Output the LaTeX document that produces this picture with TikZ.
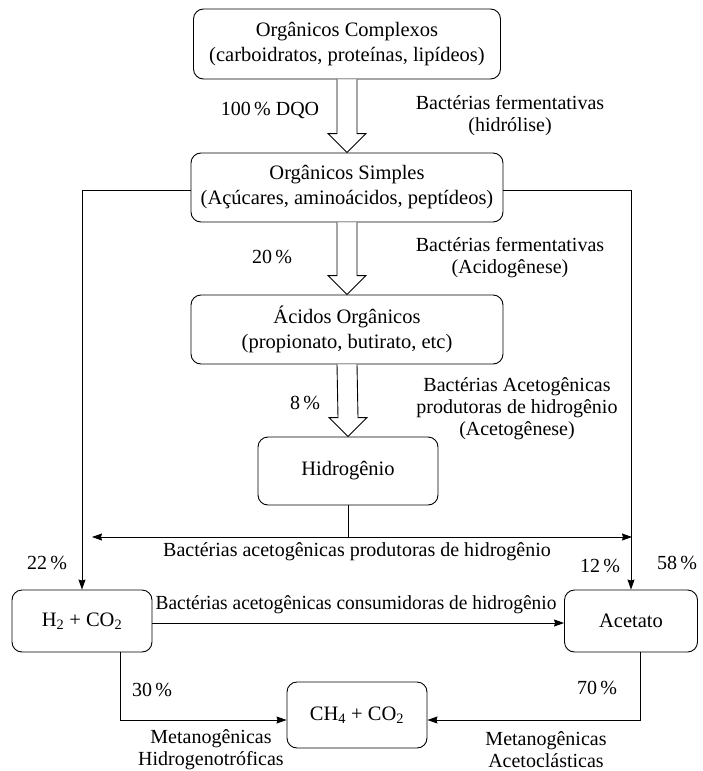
\documentclass[tikz,border=0pt]{standalone}
\usepackage{fontspec}
\setmainfont{Liberation Serif}
\usetikzlibrary{arrows.meta,calc}

\tikzset{
  box/.style={draw, line width=0.9pt, rounded corners=10pt, align=center,
    inner sep=0pt, font=\fontsize{20.5}{25}\selectfont},
  lbl/.style={align=center, inner sep=0pt, font=\fontsize{20}{22}\selectfont},
  conn/.style={line width=0.8pt},
  arr/.style={conn, -{Stealth[length=10pt,width=7pt,inset=1pt]}},
  dbl/.style={conn, {Stealth[length=10pt,width=7pt,inset=1pt]}-{Stealth[length=10pt,width=7pt,inset=1pt]}},
  hollow/.style={draw, line width=0.9pt, fill=white, line join=miter},
}

% wide hollow arrow from the bottom of #1 to the top of #2
\newcommand\hollowarrow[2]{%
  \draw[hollow] ($(#1.south)+(-10,0)$) -- ($(#2.north)+(-10,-19)$)
    -- ($(#2.north)+(-19,-19)$) -- (#2.north) -- ($(#2.north)+(19,-19)$)
    -- ($(#2.north)+(10,-19)$) -- ($(#1.south)+(10,0)$);}

\begin{document}
\begin{tikzpicture}[x=1pt,y=-1pt]
  \useasboundingbox (0,0) rectangle (703,771);

  % process stages
  \node[box, minimum width=307pt, minimum height=70pt] (oc) at (347,44)
    {Orgânicos Complexos\\(carboidratos, proteínas, lipídeos)};
  \node[box, minimum width=312pt, minimum height=69pt] (os) at (347,187.5)
    {Orgânicos Simples\\(Açúcares, aminoácidos, peptídeos)};
  \node[box, minimum width=312pt, minimum height=69pt] (ao) at (347,329.5)
    {Ácidos Orgânicos\\(propionato, butirato, etc)};
  \node[box, minimum width=180pt, minimum height=68pt] (hi) at (348,471)
    {Hidrogênio};
  \node[box, minimum width=140pt, minimum height=62pt] (hc) at (82,621)
    {H\textsubscript{2} + CO\textsubscript{2}};
  \node[box, minimum width=133pt, minimum height=62pt] (ac) at (631,621)
    {Acetato};
  \node[box, minimum width=140pt, minimum height=66pt] (ch) at (357,715)
    {CH\textsubscript{4} + CO\textsubscript{2}};

  % main sequence
  \hollowarrow{oc}{os}
  \hollowarrow{os}{ao}
  \hollowarrow{ao}{hi}

  % side branches
  \draw[arr] ([yshift=-3pt]os.west) -| (hc.north);
  \draw[arr] ([yshift=-3pt]os.east) -| (ac.north);

  \coordinate (hb) at (348,537);
  \coordinate (hl) at (92,537);
  \coordinate (hr) at (632,537);
  \draw[conn] (hi.south) -- (hb);
  \draw[dbl] (hl) -- (hr);

  \draw[arr] ([yshift=-2pt]hc.east) -- ([yshift=-2pt]ac.west);

  \coordinate (hcb) at (120,652);
  \coordinate (acb) at (640,652);
  \draw[arr] (hcb) |- ([yshift=-5pt]ch.west);
  \draw[arr] (acb) |- ([yshift=-5pt]ch.east);

  % labels
  \node[lbl] (l1) at (270,110) {100\,\% DQO};
  \node[lbl] (l2) at (510,116) {Bactérias fermentativas\\(hidrólise)};
  \node[lbl] (l3) at (272,257) {20\,\%};
  \node[lbl] (l4) at (510,258) {Bactérias fermentativas\\(Acidogênese)};
  \node[lbl] (l5) at (305,403) {8\,\%};
  \node[lbl] (l6) at (517,409) {Bactérias Acetogênicas\\produtoras de hidrogênio\\(Acetogênese)};
  \node[lbl] (l7) at (357,552) {Bactérias acetogênicas produtoras de hidrogênio};
  \node[lbl] (l8) at (47,563) {22\,\%};
  \node[lbl] (l9) at (600,566) {12\,\%};
  \node[lbl] (l10) at (677,563) {58\,\%};
  \node[lbl] (l11) at (356,605) {\scalebox{0.97}[1]{Bactérias acetogênicas consumidoras de hidrogênio}};
  \node[lbl] (l12) at (152,690) {30\,\%};
  \node[lbl] (l13) at (597,688) {70\,\%};
  \node[lbl] (l14) at (211,750) {Metanogênicas\\Hidrogenotróficas};
  \node[lbl] (l15) at (546,750) {Metanogênicas\\Acetoclásticas};
\end{tikzpicture}
\end{document}
